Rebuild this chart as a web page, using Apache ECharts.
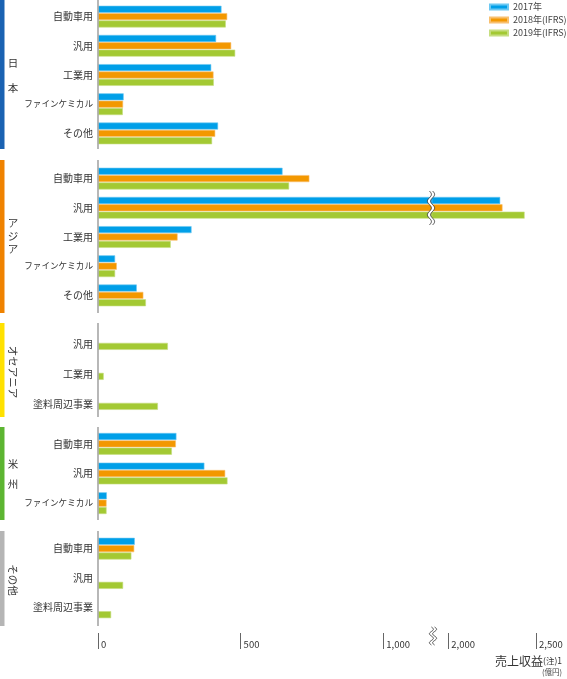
<!DOCTYPE html>
<html><head><meta charset="utf-8">
<script src="https://cdn.jsdelivr.net/npm/echarts@6/dist/echarts.min.js"></script>
<style>html,body{margin:0;padding:0;background:#fff}#c{width:567px;height:679px}</style>
</head><body><div id="c"></div>
<script>
// ---- data ----
const years = ['2017年', '2018年(IFRS)', '2019年(IFRS)'];

const japanCats = ['自動車用', '汎用', '工業用', 'ファインケミカル', 'その他'];
const japan2017 = [433, 414, 397, 90, 421];
const japan2018 = [453, 467, 405, 88, 411];
const japan2019 = [448, 481, 406, 87, 400];

const asiaCats = ['自動車用', '汎用', '工業用', 'ファインケミカル', 'その他'];
const asia2017 = [647, 2296, 328, 60, 136];
const asia2018 = [741, 2309, 279, 66, 159];
const asia2019 = [670, 2435, 255, 60, 168];

const oceaniaCats = ['汎用', '工業用', '塗料周辺事業'];
const oceania2017 = [null, null, null];
const oceania2018 = [null, null, null];
const oceania2019 = [245, 20, 210];

const americasCats = ['自動車用', '汎用', 'ファインケミカル'];
const americas2017 = [275, 373, 31];
const americas2018 = [273, 446, 30];
const americas2019 = [259, 454, 30];

const otherCats = ['自動車用', '汎用', '塗料周辺事業'];
const other2017 = [129, null, null];
const other2018 = [127, null, null];
const other2019 = [117, 88, 46];

const xTicksLow = [0, 500, 1000];
const xTicksHigh = [2000, 2500];
const lowRange = [0, 1171];
const highRange = [1907, 2500];

// ---- layout / style ----
const FONT = '"Noto Sans CJK JP", "Noto Sans", sans-serif';
const colors = ['#009fe8', '#f39800', '#a3c933'];
const borders = ['#6cc8f2', '#f8c070', '#c6de80'];

const regions = [
  {label: '日\n本', cats: japanCats, vals: [japan2017, japan2018, japan2019], top: 2, height: 146,
   bar: [0, 149], color: '#1a62b2', text: {y: 76, lh: 25, rot: 0}},
  {label: 'ア\nジ\nア', cats: asiaCats, vals: [asia2017, asia2018, asia2019], top: 164, height: 146,
   bar: [160, 313], color: '#ef8200', text: {y: 236, lh: 13, rot: 0}},
  {label: 'オセアニア', cats: oceaniaCats, vals: [oceania2017, oceania2018, oceania2019], top: 324, height: 90,
   bar: [323, 417], color: '#ffe100', text: {y: 372, lh: 12, rot: -Math.PI / 2}, labelPad: 10},
  {label: '米\n州', cats: americasCats, vals: [americas2017, americas2018, americas2019], top: 429, height: 89,
   bar: [427, 520], color: '#5cb531', text: {y: 474, lh: 20, rot: 0}},
  {label: 'その他', cats: otherCats, vals: [other2017, other2018, other2019], top: 534, height: 88,
   bar: [531, 626], color: '#b5b5b5', text: {y: 580, lh: 12, rot: -Math.PI / 2}}
];

const LEFT = 98, BREAKX = 432, RIGHTX = 536;

const grids = [], xAxes = [], yAxes = [], series = [];

function catAxis(cats, gi, show, pad) {
  return {
    type: 'category', gridIndex: gi, data: cats, inverse: true, show: show,
    axisLine: {show: false}, axisTick: {show: false},
    axisLabel: {
      margin: 5, fontSize: 10, color: '#333', fontFamily: FONT,
      padding: pad ? [pad, 0, 0, 0] : 0,
      formatter: v => v === 'ファインケミカル' ? '{s|' + v + '}' : v,
      rich: {s: {fontSize: 8.6, color: '#333', fontFamily: FONT}}
    }
  };
}
function valAxis(gi, range) {
  return {type: 'value', gridIndex: gi, min: range[0], max: range[1], show: false, splitLine: {show: false}};
}
function addBars(gi, vals) {
  vals.forEach((d, j) => {
    series.push({
      type: 'bar', name: years[j], xAxisIndex: gi, yAxisIndex: gi, data: d,
      barWidth: 7, barGap: '5%', clip: true,
      itemStyle: {color: colors[j], borderColor: borders[j], borderWidth: 0.6},
      emphasis: {disabled: true}
    });
  });
}

regions.forEach((r, i) => {
  grids.push({left: LEFT, width: BREAKX - LEFT, top: r.top, height: r.height, outerBoundsMode: 'none'});
  xAxes.push(valAxis(i, lowRange));
  yAxes.push(catAxis(r.cats, i, true, r.labelPad));
  addBars(i, r.vals);
});

// Asia right-of-break grid (index 5)
grids.push({left: BREAKX, width: RIGHTX - BREAKX, top: regions[1].top, height: regions[1].height, outerBoundsMode: 'none'});
xAxes.push(valAxis(5, highRange));
yAxes.push(catAxis(asiaCats, 5, false));
addBars(5, regions[1].vals);

// bottom axis-only grids (6, 7)
function tickAxis(gi, range, ticks) {
  return {
    type: 'value', gridIndex: gi, min: range[0], max: range[1], position: 'bottom',
    axisLine: {show: false}, splitLine: {show: false},
    axisTick: {show: true, inside: true, length: 16, lineStyle: {color: '#666', width: 1}, customValues: ticks},
    axisLabel: {inside: true, margin: 0, align: 'left', verticalAlign: 'bottom', padding: [0, 0, 0, 3],
      fontSize: 9.5, color: '#333', fontFamily: FONT, customValues: ticks}
  };
}
grids.push({left: LEFT, width: BREAKX - LEFT, top: 633, height: 16, outerBoundsMode: 'none'});
xAxes.push(tickAxis(6, lowRange, xTicksLow));
yAxes.push({type: 'value', gridIndex: 6, show: false});
grids.push({left: BREAKX, width: RIGHTX - BREAKX, top: 633, height: 16, outerBoundsMode: 'none'});
xAxes.push(tickAxis(7, highRange, xTicksHigh));
yAxes.push({type: 'value', gridIndex: 7, show: false});

// ---- decorations ----
const graphics = [];
regions.forEach(r => {
  graphics.push({type: 'rect', shape: {x: 0, y: r.bar[0], width: 4.5, height: r.bar[1] - r.bar[0]},
    style: {fill: r.color}, silent: true});
  graphics.push({type: 'line', shape: {x1: LEFT, y1: r.bar[0], x2: LEFT, y2: r.bar[1]},
    style: {stroke: '#a6a6a6', lineWidth: 1.6}, silent: true, z: 50});
  graphics.push({type: 'text', x: 13, y: r.text.y, rotation: r.text.rot, silent: true,
    style: {text: r.label, fill: '#333', fontSize: 10.5, fontFamily: FONT, align: 'center',
      verticalAlign: 'middle', lineHeight: r.text.lh}});
});

function wave(cx, y0, y1, periods, amp, sep) {
  const n = 60, a = [], b = [];
  for (let k = 0; k <= n; k++) {
    const t = k / n, y = y0 + t * (y1 - y0), dx = amp * Math.sin(t * Math.PI * 2 * periods);
    a.push([cx - sep / 2 + dx, y]);
    b.push([cx + sep / 2 + dx, y]);
  }
  return [
    {type: 'polygon', shape: {points: a.concat(b.slice().reverse())}, style: {fill: '#fff'}, z: 100, silent: true},
    {type: 'polyline', shape: {points: a}, style: {stroke: '#222', lineWidth: 0.8, fill: null}, z: 101, silent: true},
    {type: 'polyline', shape: {points: b}, style: {stroke: '#222', lineWidth: 0.8, fill: null}, z: 101, silent: true}
  ];
}
graphics.push(...wave(431, 191, 225, 2.5, 2, 3.2));
graphics.push(...wave(433, 627, 645, 2, 2, 3.2));

graphics.push({type: 'text', x: 562, y: 661, silent: true,
  style: {text: '{a|売上収益}{b|(注)1}', align: 'right', verticalAlign: 'middle',
    rich: {a: {fontSize: 12, fill: '#333', fontFamily: FONT}, b: {fontSize: 8.5, fill: '#333', fontFamily: FONT}}}});
graphics.push({type: 'text', x: 562, y: 672, silent: true,
  style: {text: '(億円)', align: 'right', verticalAlign: 'middle', fontSize: 7.5, fill: '#444', fontFamily: FONT}});

const chart = echarts.init(document.getElementById('c'), null, {renderer: 'canvas'});
chart.setOption({
  animation: false,
  backgroundColor: '#fff',
  textStyle: {fontFamily: FONT},
  legend: {
    data: years, orient: 'vertical', left: 489, top: 2, itemWidth: 18, itemHeight: 5, itemGap: 3,
    icon: 'rect', padding: 0,
    textStyle: {fontSize: 9, color: '#444', lineHeight: 10, fontFamily: FONT}
  },
  tooltip: {show: false},
  grid: grids, xAxis: xAxes, yAxis: yAxes, series: series, graphic: graphics
});
</script></body></html>
